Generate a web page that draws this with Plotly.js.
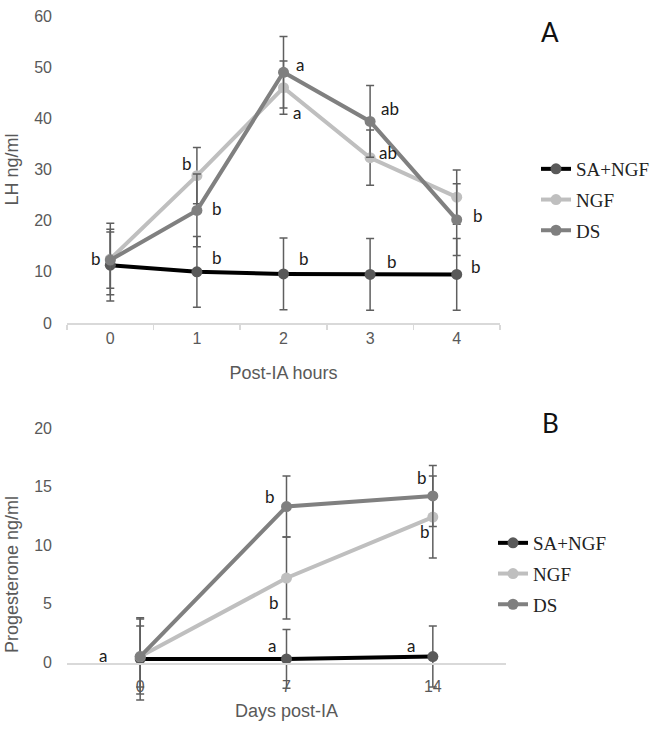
<!DOCTYPE html>
<html><head><meta charset="utf-8">
<script src="https://cdn.plot.ly/plotly-3.0.1.min.js"></script>
<style>body{margin:0;background:#fff}#chart{width:655px;height:729px}</style>
</head><body><div id="chart"></div>
<script>
// ---------- data ----------
const seriesNames = ['SA+NGF', 'NGF', 'DS'];

// Panel A: LH (ng/ml) by post-IA hour
const hoursA = ['0', '1', '2', '3', '4'];
const lhSA = [11.3, 10.0, 9.6, 9.5, 9.5];
const lhSAerr = [7.0, 6.9, 7.0, 7.0, 7.0];
const lhNGF = [12.5, 28.8, 46.0, 32.3, 24.6];
const lhNGFerr = [7.0, 5.5, 5.2, 5.4, 5.3];
const lhDS = [12.3, 22.0, 49.0, 39.4, 20.2];
const lhDSerr = [5.5, 7.1, 7.0, 7.0, 7.0];
const lettersA_SA = ['', 'b', 'b', 'b', 'b'];
const lettersA_NGF = ['', 'b', 'a', 'ab', ''];
const lettersA_DS = ['b', 'b', 'a', 'ab', 'b'];

// Panel B: Progesterone (ng/ml) by days post-IA
const daysB = ['0', '7', '14'];
const pSA = [0.3, 0.3, 0.5];
const pSAerr = [3.5, 2.5, 2.6];
const pNGF = [0.5, 7.2, 12.4];
const pNGFerr = [3.2, 3.5, 3.5];
const pDS = [0.5, 13.3, 14.2];
const pDSerr = [2.6, 2.6, 2.6];
const lettersB_SA = ['a', 'a', 'a'];
const lettersB_NGF = ['', 'b', 'b'];
const lettersB_DS = ['', 'b', 'b'];

// ---------- styles ----------
const lineColors = ['#000000', '#BFBFBF', '#808080'];
const markerColors = ['#595959', '#BFBFBF', '#7F7F7F'];
const errColor = '#5f5f5f';
const tickFont = {family: 'Liberation Sans, Arial, sans-serif', size: 16, color: '#595959'};
const titleFont = {family: 'Liberation Sans, Arial, sans-serif', size: 18, color: '#595959'};
const letterFont = {family: 'Lato, Open Sans, sans-serif', size: 17, color: '#1a1a1a'};
const legendFont = {family: 'Liberation Serif, Times New Roman, serif', size: 19, color: '#222'};

// label offsets in px (xshift, yshift) per point
const offA = {
  SA: [[0,0],[20,14],[20,15],[22,13],[19,8]],
  NGF: [[0,0],[-10,12],[13,-25],[18,5],[0,0]],
  DS: [[-14,2],[20,2],[16,8],[20,13],[21,4]]
};
const offB = {
  SA: [[-37,3],[-15,13],[-22,11]],
  NGF: [[0,0],[-13,-24],[-8,-14]],
  DS: [[0,0],[-17,10],[-11,18]]
};

function trace(x, y, err, i, xa, ya, legend) {
  return {
    type: 'scatter', mode: 'lines+markers', name: seriesNames[i],
    x: x, y: y, xaxis: xa, yaxis: ya, legend: legend,
    legendgroup: legend + i,
    line: {color: lineColors[i], width: 4},
    marker: {color: markerColors[i], size: 11},
    error_y: {type: 'data', array: err, visible: true, color: errColor, thickness: 1.5, width: 4},
    hoverinfo: 'skip'
  };
}

const data = [
  trace(hoursA, lhSA, lhSAerr, 0, 'x', 'y', 'legend'),
  trace(hoursA, lhNGF, lhNGFerr, 1, 'x', 'y', 'legend'),
  trace(hoursA, lhDS, lhDSerr, 2, 'x', 'y', 'legend'),
  trace(daysB, pSA, pSAerr, 0, 'x2', 'y2', 'legend2'),
  trace(daysB, pNGF, pNGFerr, 1, 'x2', 'y2', 'legend2'),
  trace(daysB, pDS, pDSerr, 2, 'x2', 'y2', 'legend2')
];

const annotations = [];
function addLetters(ys, letters, offs, xref, yref) {
  letters.forEach((t, k) => {
    if (!t) return;
    annotations.push({
      x: k, y: ys[k], xref: xref, yref: yref, text: t, showarrow: false,
      xshift: offs[k][0], yshift: offs[k][1], font: letterFont,
      xanchor: 'center', yanchor: 'middle'
    });
  });
}
addLetters(lhSA, lettersA_SA, offA.SA, 'x', 'y');
addLetters(lhNGF, lettersA_NGF, offA.NGF, 'x', 'y');
addLetters(lhDS, lettersA_DS, offA.DS, 'x', 'y');
addLetters(pSA, lettersB_SA, offB.SA, 'x2', 'y2');
addLetters(pNGF, lettersB_NGF, offB.NGF, 'x2', 'y2');
addLetters(pDS, lettersB_DS, offB.DS, 'x2', 'y2');

annotations.push({xref: 'paper', yref: 'paper', x: 550/655, y: 1 - 32/729, text: 'A', showarrow: false,
  font: {family: 'Lato, Open Sans, sans-serif', size: 26, color: '#111'}, xanchor: 'center', yanchor: 'middle'});
annotations.push({xref: 'paper', yref: 'paper', x: 550/655, y: 1 - 423/729, text: 'B', showarrow: false,
  font: {family: 'Lato, Open Sans, sans-serif', size: 26, color: '#111'}, xanchor: 'center', yanchor: 'middle'});

const layout = {
  width: 655, height: 729,
  margin: {l: 0, r: 0, t: 0, b: 0},
  paper_bgcolor: '#fff', plot_bgcolor: 'rgba(0,0,0,0)',
  showlegend: true,
  xaxis: {
    domain: [67/655, 500/655], anchor: 'y', type: 'category', range: [-0.5, 4.5],
    showline: true, linecolor: '#d9d9d9', linewidth: 1.5,
    ticks: 'outside', tickson: 'boundaries', ticklen: 5, tickcolor: '#d9d9d9', tickwidth: 1.5,
    showgrid: false, zeroline: false, tickfont: tickFont, ticklabelstandoff: 0,
    title: {text: 'Post-IA hours', font: titleFont, standoff: 20}
  },
  yaxis: {
    domain: [1 - 323/729, 1 - 16/729], anchor: 'x', range: [0, 60], dtick: 10,
    showgrid: false, zeroline: false, showline: false, ticks: '',
    tickfont: tickFont, ticklabelstandoff: 14,
    title: {text: 'LH ng/ml', font: titleFont, standoff: 10}
  },
  xaxis2: {
    domain: [67/655, 506/655], anchor: 'free', position: 1 - 663/729, type: 'category', range: [-0.5, 2.5],
    showline: true, linecolor: '#d9d9d9', linewidth: 1.5, ticks: '',
    showgrid: false, zeroline: false, tickfont: tickFont, ticklabelstandoff: 8,
    title: {text: 'Days post-IA', font: titleFont, standoff: 10}
  },
  yaxis2: {
    domain: [1 - 721/729, 1 - 428/729], anchor: 'x2', range: [-5, 20], dtick: 5,
    showgrid: false, zeroline: false, showline: false, ticks: '',
    tickfont: tickFont, ticklabelstandoff: 14,
    title: {text: 'Progesterone ng/ml', font: titleFont, standoff: 10}
  },
  legend: {
    x: 536/655, y: 1 - 150/729, xanchor: 'left', yanchor: 'top',
    font: legendFont, traceorder: 'grouped', tracegroupgap: 3, bgcolor: 'rgba(0,0,0,0)'
  },
  legend2: {
    x: 493/655, y: 1 - 524/729, xanchor: 'left', yanchor: 'top',
    font: legendFont, traceorder: 'grouped', tracegroupgap: 3, bgcolor: 'rgba(0,0,0,0)'
  },
  annotations: annotations
};

Plotly.newPlot('chart', data, layout, {staticPlot: true, displayModeBar: false});
</script>
</body></html>
